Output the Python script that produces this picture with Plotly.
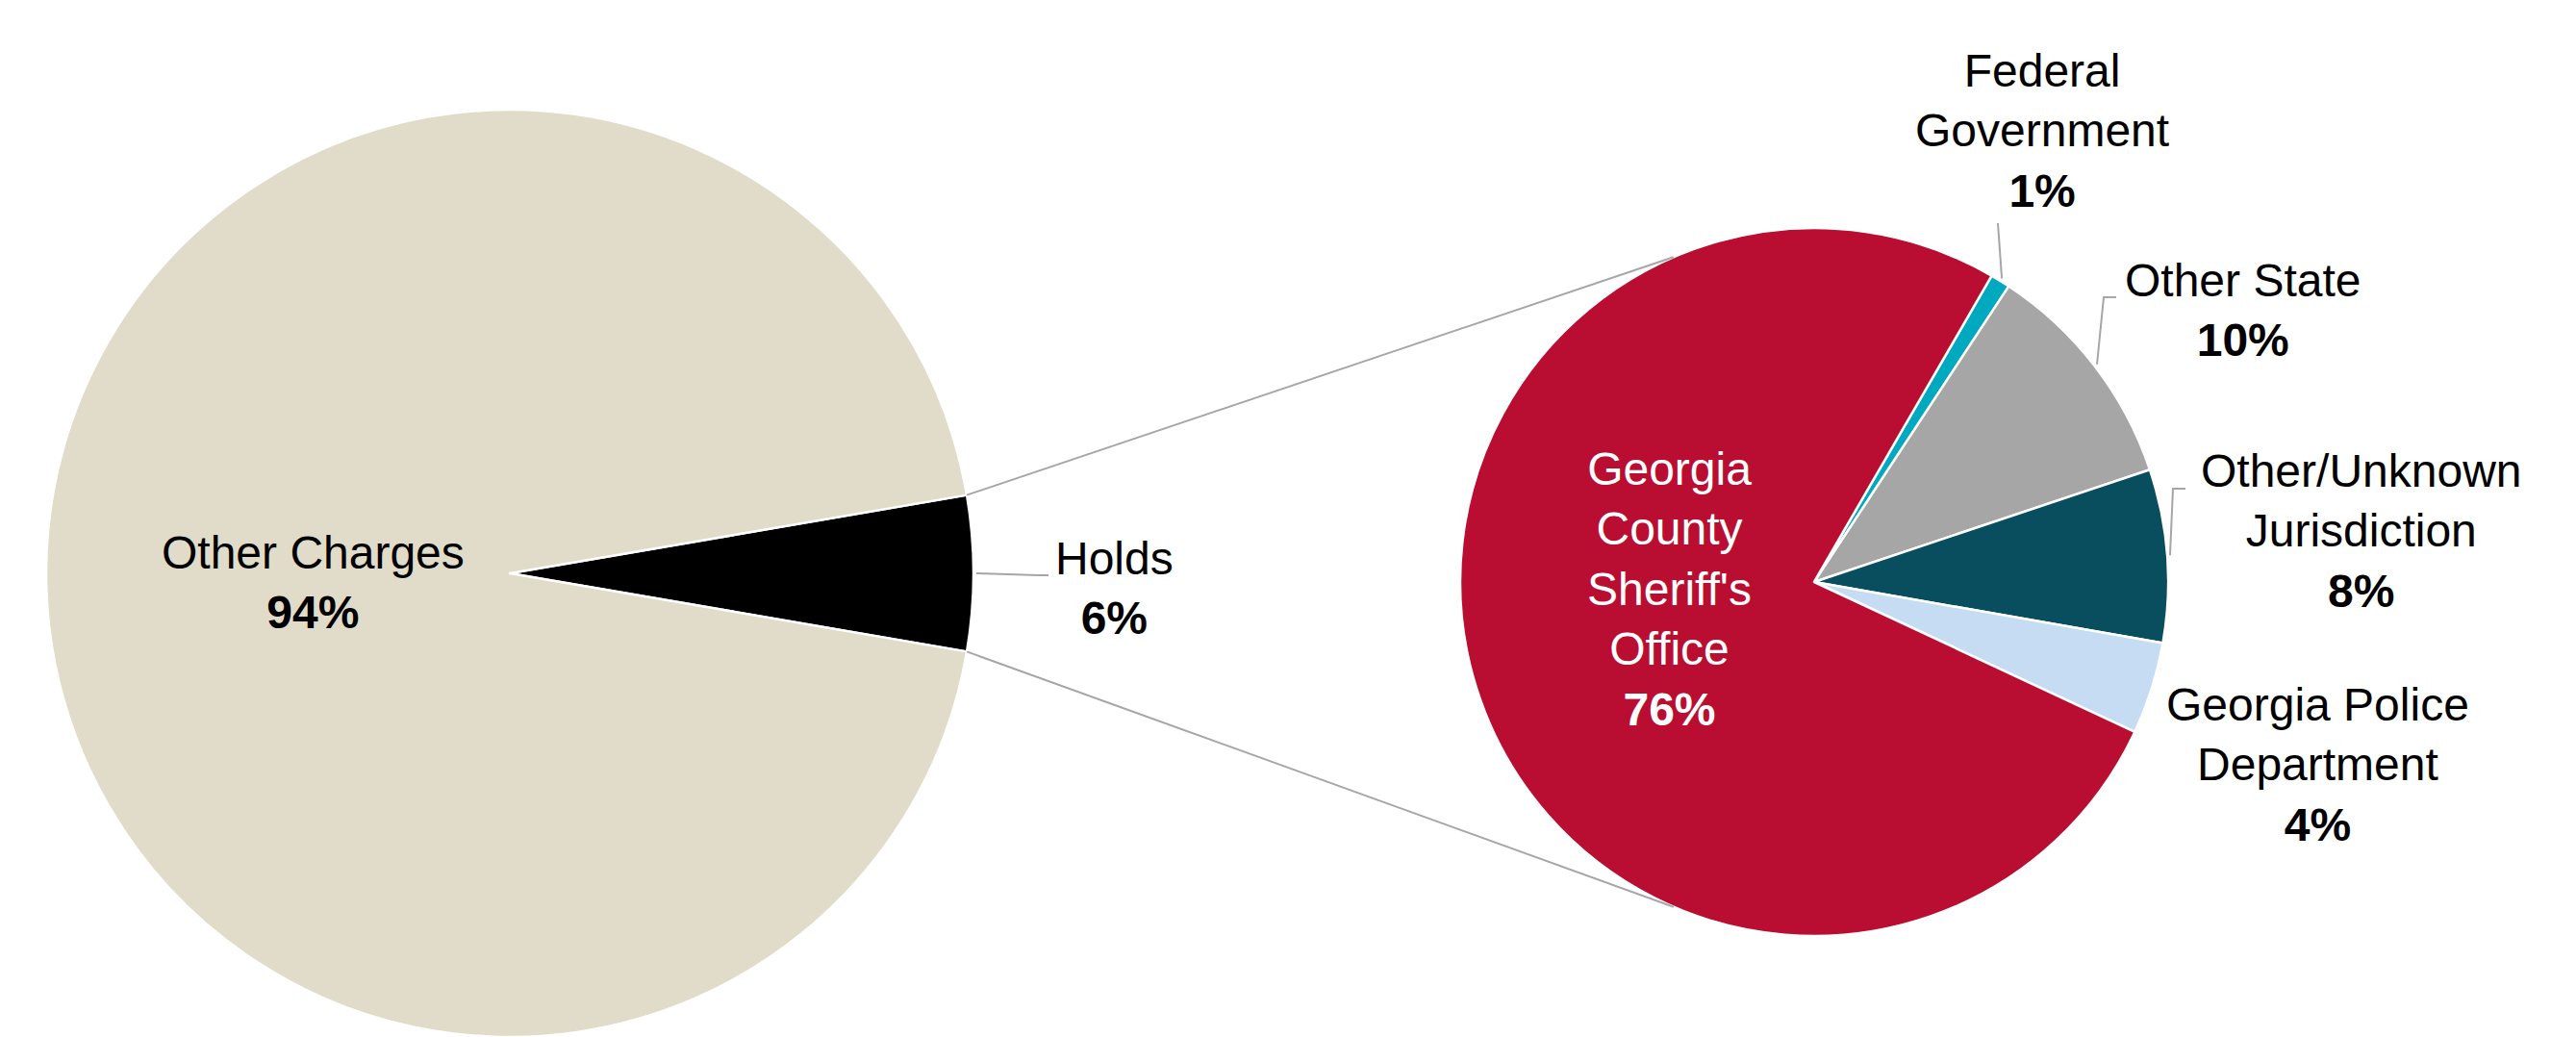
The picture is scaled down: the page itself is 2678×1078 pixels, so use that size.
import math
import plotly.graph_objects as go

W, H = 2678, 1078

# ---------------- data ----------------
left_labels = ["Holds", "Other Charges"]
left_values = [5.4, 94.6]
left_pct_text = ["6%", "94%"]
left_colors = ["#000000", "#E0DCC9"]

right_labels = ["Federal Government", "Other State", "Other/Unknown Jurisdiction",
                "Georgia Police Department", "Georgia County Sheriff's Office"]
right_values = [0.9, 10.6, 7.9, 4.2, 76.4]
right_pct_text = ["1%", "10%", "8%", "4%", "76%"]
right_colors = ["#00A9BF", "#A6A6A6", "#084E5E", "#C5DCF2", "#B90E31"]

# label display text (line breaks)
left_display = ["Holds", "Other Charges"]
right_display = ["Federal<br>Government", "Other State", "Other/Unknown<br>Jurisdiction",
                 "Georgia Police<br>Department", "Georgia<br>County<br>Sheriff's<br>Office"]

# ---------------- layout geometry (pixels) ----------------
L_CX, L_CY, L_R = 530, 596, 482
R_CX, R_CY, R_R = 1886, 605, 368
L_ROT = 90 - left_values[0] / sum(left_values) * 360 / 2   # centre the Holds slice at 3 o'clock
R_ROT = 30.1
CONNECT_ANGLE = 113.4  # where the connector lines meet the right pie

left_label_pos = [(1158, 611), (325, 605)]
right_label_pos = [(2123, 136), (2331, 322), (2455, 552), (2409, 795), (1735, 612)]
right_label_color = ["black", "black", "black", "black", "white"]
# leader line elbows (pixel) per label: list of points after the slice edge start
left_leaders = {0: [(1080, 598), (1090, 598)]}
right_leaders = {0: [(2077, 232)], 1: [(2187, 309), (2200, 309)], 2: [(2259, 508), (2272, 508)]}

FONT = "Liberation Sans, Arial, sans-serif"
FS = 48
LINE_COLOR = "#A6A6A6"


def px(x):
    return x / W


def py(y):
    return 1 - y / H


def slice_angles(values, rot):
    """Return (start, mid, end) math angles (deg) for clockwise pies."""
    tot = sum(values)
    out = []
    cum = 0
    for v in values:
        a0 = rot + 360 * cum / tot
        cum += v
        a1 = rot + 360 * cum / tot
        out.append((90 - a0, 90 - (a0 + a1) / 2, 90 - a1))
    return out


def pt(cx, cy, r, ang):
    return (cx + r * math.cos(math.radians(ang)), cy - r * math.sin(math.radians(ang)))


fig = go.Figure()

fig.add_trace(go.Pie(
    labels=left_labels, values=left_values, sort=False, direction="clockwise",
    rotation=L_ROT, textinfo="none", hoverinfo="label+percent",
    marker=dict(colors=left_colors, line=dict(color="white", width=2.5)),
    domain=dict(x=[px(L_CX - L_R), px(L_CX + L_R)],
                y=[max(0, (H - L_CY - L_R) / H), min(1, (H - L_CY + L_R) / H)]),
    showlegend=False,
))

fig.add_trace(go.Pie(
    labels=right_labels, values=right_values, sort=False, direction="clockwise",
    rotation=R_ROT, textinfo="none", hoverinfo="label+percent",
    marker=dict(colors=right_colors, line=dict(color="white", width=2.5)),
    domain=dict(x=[px(R_CX - R_R), px(R_CX + R_R)],
                y=[(H - R_CY - R_R) / H, (H - R_CY + R_R) / H]),
    showlegend=False,
))

shapes = []


def polyline(points):
    d = "M " + " L ".join(f"{px(x):.6f},{py(y):.6f}" for x, y in points)
    return dict(type="path", path=d, xref="paper", yref="paper",
                line=dict(color=LINE_COLOR, width=2), layer="above")


# connector lines from the Holds slice to the breakdown pie
la = slice_angles(left_values, L_ROT)
holds_start, _, holds_end = la[0]
shapes.append(polyline([pt(L_CX, L_CY, L_R, holds_start), pt(R_CX, R_CY, R_R, CONNECT_ANGLE)]))
shapes.append(polyline([pt(L_CX, L_CY, L_R, holds_end), pt(R_CX, R_CY, R_R, -CONNECT_ANGLE)]))

# leader lines
for i, pts in left_leaders.items():
    shapes.append(polyline([pt(L_CX, L_CY, L_R + 3, la[i][1])] + pts))
ra = slice_angles(right_values, R_ROT)
for i, pts in right_leaders.items():
    shapes.append(polyline([pt(R_CX, R_CY, R_R + 3, ra[i][1])] + pts))

annotations = []
for name, pct, (x, y) in zip(left_display, left_pct_text, left_label_pos):
    annotations.append(dict(x=px(x), y=py(y), xref="paper", yref="paper",
                            text=f"{name}<br><b>{pct}</b>", showarrow=False,
                            xanchor="center", yanchor="middle", align="center",
                            font=dict(family=FONT, size=FS, color="black")))
for name, pct, (x, y), c in zip(right_display, right_pct_text, right_label_pos, right_label_color):
    annotations.append(dict(x=px(x), y=py(y), xref="paper", yref="paper",
                            text=f"{name}<br><b>{pct}</b>", showarrow=False,
                            xanchor="center", yanchor="middle", align="center",
                            font=dict(family=FONT, size=FS, color=c)))

fig.update_layout(
    width=W, height=H,
    margin=dict(l=0, r=0, t=0, b=0),
    paper_bgcolor="white", plot_bgcolor="white",
    shapes=shapes, annotations=annotations,
    font=dict(family=FONT, size=FS),
)

fig.write_html("out.html")
